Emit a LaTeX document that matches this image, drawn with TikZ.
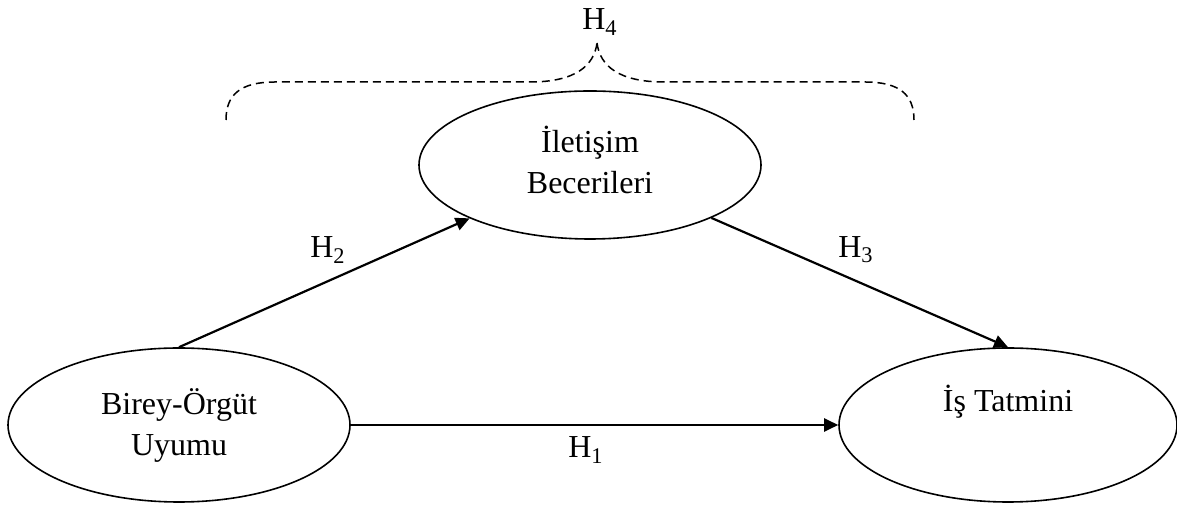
\documentclass[tikz,border=0pt]{standalone}
\usepackage{fontspec}
\setmainfont{Liberation Serif}
\usetikzlibrary{shapes.geometric,arrows.meta}

\begin{document}
\begin{tikzpicture}[x=0.5pt,y=-0.5pt,
  var/.style={draw,ellipse,line width=0.8pt,inner sep=0pt,align=center,font=\fontsize{16}{20.5}\selectfont},
  link/.style={line width=1.1pt,-{Triangle[length=7pt,width=6.5pt]}},
  hyp/.style={font=\fontsize{16}{20}\selectfont},
  brace/.style={line width=0.75pt,dash pattern=on 4pt off 2.5pt}]
  \useasboundingbox (0,0) rectangle (1177,506);
  \node[var,minimum width=171pt,minimum height=77pt] (boa) at (179,425) {Birey-Örgüt\\Uyumu};
  \node[var,minimum width=171pt,minimum height=74pt] (ileti) at (590,165) {İletişim\\Becerileri\\[-15.5pt]};
  \node[var,minimum width=169pt,minimum height=77pt] (tat) at (1008,425) {İş Tatmini\\\strut};
  \draw[link] (boa.north) -- (ileti);
  \draw[link] (ileti) -- (tat.north);
  \draw[link] (boa) -- (tat);
  \node[hyp] (h1) at (586,450) {H\textsubscript{1}};
  \node[hyp] (h2) at (328,250) {H\textsubscript{2}};
  \node[hyp] (h3) at (856,250) {H\textsubscript{3}};
  \node[hyp] (h4) at (600,22) {H\textsubscript{4}};
  \draw[brace] (226,120) .. controls (226,95) and (240,82) .. (275,82) -- (530,82)
    .. controls (575,82) and (594,66) .. (597,43);
  \draw[brace] (597,43) .. controls (600,66) and (619,82) .. (664,82) -- (865,82)
    .. controls (900,82) and (914,95) .. (914,120);
\end{tikzpicture}
\end{document}
